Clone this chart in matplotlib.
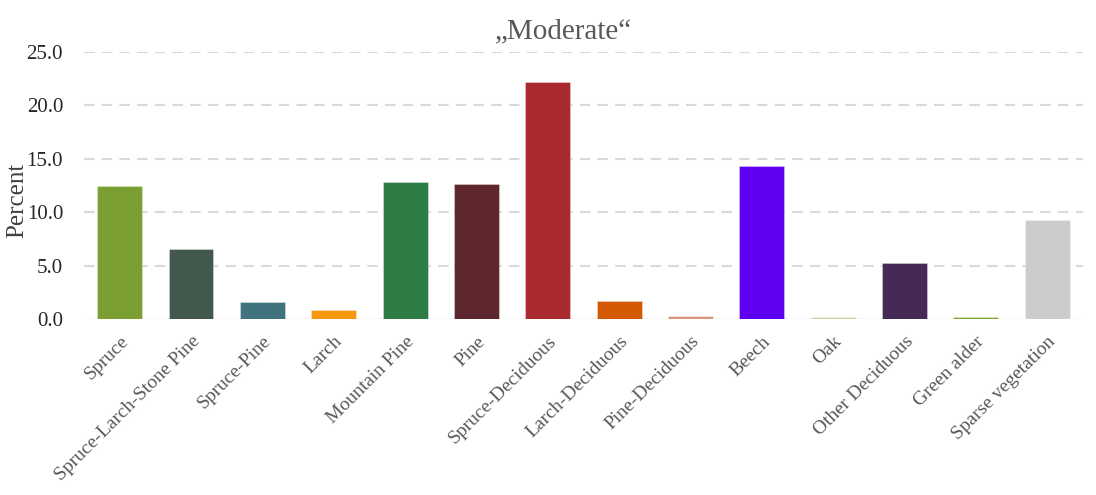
import matplotlib
matplotlib.use("Agg")
import matplotlib.pyplot as plt

categories = ["Spruce", "Spruce-Larch-Stone Pine", "Spruce-Pine", "Larch",
              "Mountain Pine", "Pine", "Spruce-Deciduous", "Larch-Deciduous",
              "Pine-Deciduous", "Beech", "Oak", "Other Deciduous",
              "Green alder", "Sparse vegetation"]
percent = [12.45, 6.55, 1.6, 0.8, 12.8, 12.6, 22.15, 1.7, 0.3, 14.35,
           0.15, 5.25, 0.2, 9.25]
bar_colors = ["#7A9E32", "#44594D", "#41737F", "#F7980F", "#2E7D46",
              "#5E272E", "#A8292E", "#D45A06", "#D9957E", "#5E00F2",
              "#C5D6A8", "#452A57", "#7CA83A", "#CCCCCC"]
yticks = [0, 5, 10, 15, 20, 25]

plt.rcParams['font.family'] = ['Liberation Serif', 'DejaVu Serif']

fig = plt.figure(figsize=(10.96, 4.95), dpi=100)
ax = fig.add_axes([0.0766, 0.3556, 0.9114, 0.5394])

x = list(range(len(categories)))
ax.bar(x, percent, width=0.63, color=bar_colors, edgecolor=(1, 1, 1, 0.45),
       linewidth=0.5, zorder=3)

ax.set_xlim(-0.5, len(categories) - 0.5)
ax.set_ylim(0, 25)
ax.set_yticks(yticks)
ax.set_yticklabels(["%.1f" % v for v in yticks], fontsize=15, color="#262626")
ax.set_xticks(x)
ax.set_xticklabels(categories, rotation=45, ha="right", rotation_mode="anchor",
                   fontsize=14, color="#595959")
ax.tick_params(axis="both", length=0)
ax.tick_params(axis="y", pad=15)
ax.tick_params(axis="x", pad=10)

# dashed grid above zero, solid light baseline at zero
for v in yticks[1:]:
    ax.axhline(v, color="#D9D9D9", linestyle=(0, (5, 3.5)), linewidth=1.5, zorder=1)
ax.axhline(0, color="#D9D9D9", linewidth=1.0, zorder=2)

for side in ["top", "right", "left", "bottom"]:
    ax.spines[side].set_visible(False)

ax.set_ylabel("Percent", fontsize=18, color="#404040")
ax.yaxis.set_label_coords(-0.056, 0.446)
ax.set_title("\u201eModerate\u201c", fontsize=21, color="#595959", pad=10, x=0.48)

plt.savefig("out.png", dpi=100)
